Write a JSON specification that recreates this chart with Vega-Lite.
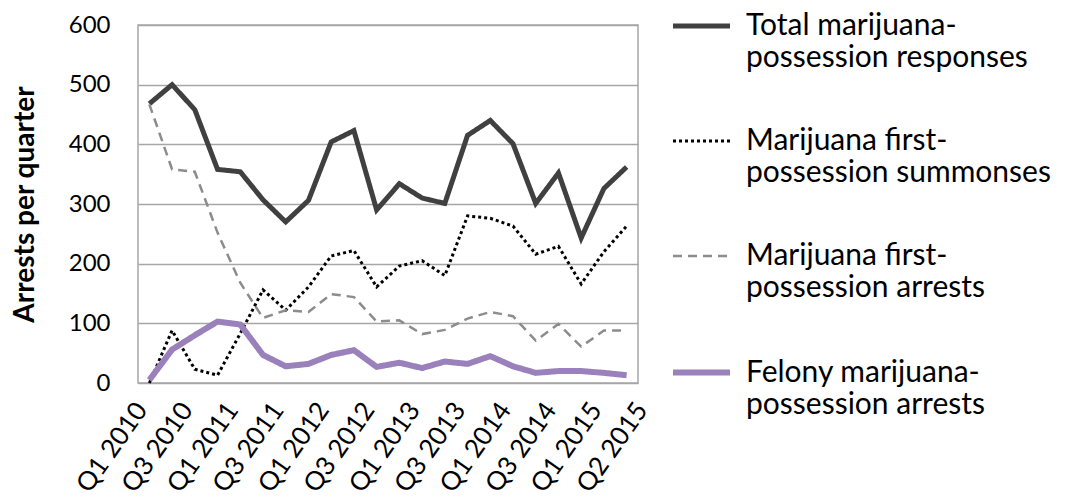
{
  "$schema": "https://vega.github.io/schema/vega-lite/v6.json",
  "width": 500,
  "height": 358,
  "autosize": "none",
  "padding": {"left": 138, "top": 25, "right": 428, "bottom": 114},
  "background": "white",
  "config": {
    "font": "Lato",
    "view": {"stroke": "#a6a6a6", "strokeWidth": 1.5},
    "axis": {"labelFont": "Lato", "titleFont": "Lato", "labelColor": "#000", "titleColor": "#000"}
  },
  "data": {
    "values": [
      {"i": 0, "q": "Q1 2010", "Total": 468, "Summonses": 0, "Arrests": 467, "Felony": 5},
      {"i": 1, "q": "Q2 2010", "Total": 500, "Summonses": 88, "Arrests": 358, "Felony": 56},
      {"i": 2, "q": "Q3 2010", "Total": 458, "Summonses": 23, "Arrests": 354, "Felony": 80},
      {"i": 3, "q": "Q4 2010", "Total": 358, "Summonses": 13, "Arrests": 252, "Felony": 103},
      {"i": 4, "q": "Q1 2011", "Total": 354, "Summonses": 83, "Arrests": 168, "Felony": 98},
      {"i": 5, "q": "Q2 2011", "Total": 307, "Summonses": 156, "Arrests": 109, "Felony": 47},
      {"i": 6, "q": "Q3 2011", "Total": 270, "Summonses": 122, "Arrests": 122, "Felony": 28},
      {"i": 7, "q": "Q4 2011", "Total": 306, "Summonses": 161, "Arrests": 119, "Felony": 32},
      {"i": 8, "q": "Q1 2012", "Total": 404, "Summonses": 213, "Arrests": 149, "Felony": 47},
      {"i": 9, "q": "Q2 2012", "Total": 423, "Summonses": 222, "Arrests": 144, "Felony": 55},
      {"i": 10, "q": "Q3 2012", "Total": 290, "Summonses": 161, "Arrests": 103, "Felony": 27},
      {"i": 11, "q": "Q4 2012", "Total": 334, "Summonses": 196, "Arrests": 105, "Felony": 34},
      {"i": 12, "q": "Q1 2013", "Total": 310, "Summonses": 205, "Arrests": 82, "Felony": 25},
      {"i": 13, "q": "Q2 2013", "Total": 301, "Summonses": 180, "Arrests": 89, "Felony": 36},
      {"i": 14, "q": "Q3 2013", "Total": 415, "Summonses": 280, "Arrests": 108, "Felony": 32},
      {"i": 15, "q": "Q4 2013", "Total": 440, "Summonses": 276, "Arrests": 119, "Felony": 45},
      {"i": 16, "q": "Q1 2014", "Total": 401, "Summonses": 263, "Arrests": 112, "Felony": 28},
      {"i": 17, "q": "Q2 2014", "Total": 301, "Summonses": 216, "Arrests": 71, "Felony": 17},
      {"i": 18, "q": "Q3 2014", "Total": 352, "Summonses": 229, "Arrests": 99, "Felony": 20},
      {"i": 19, "q": "Q4 2014", "Total": 243, "Summonses": 166, "Arrests": 61, "Felony": 20},
      {"i": 20, "q": "Q1 2015", "Total": 326, "Summonses": 220, "Arrests": 88, "Felony": 17},
      {"i": 21, "q": "Q2 2015", "Total": 362, "Summonses": 263, "Arrests": 88, "Felony": 13}
    ]
  },
  "transform": [
    {"fold": ["Total", "Summonses", "Arrests", "Felony"], "as": ["series", "value"]}
  ],
  "mark": {"type": "line", "strokeJoin": "miter", "strokeCap": "butt"},
  "encoding": {
    "x": {
      "field": "i",
      "type": "quantitative",
      "scale": {"domain": [-0.5, 21.5], "nice": false, "zero": false},
      "axis": {
        "title": null,
        "domain": false,
        "ticks": false,
        "grid": false,
        "labelAngle": -55,
        "labelAlign": "right",
        "labelBaseline": "middle",
        "labelFontSize": 26,
        "labelPadding": 22,
        "labelOffset": {"condition": {"test": "datum.value == 21", "value": 15}, "value": -8},
        "labelOverlap": false,
        "labelFlush": false,
        "labelBound": false,
        "values": [0, 2, 4, 6, 8, 10, 12, 14, 16, 18, 20, 21],
        "labelExpr": "'Q' + (datum.value % 4 + 1) + ' ' + (2010 + floor(datum.value / 4))"
      }
    },
    "y": {
      "field": "value",
      "type": "quantitative",
      "scale": {"domain": [0, 600], "nice": false},
      "axis": {
        "title": "Arrests per quarter",
        "titleFontSize": 28,
        "titleFontWeight": "bold",
        "titlePadding": 29,
        "values": [0, 100, 200, 300, 400, 500, 600],
        "labelFontSize": 24,
        "labelPadding": 28,
        "ticks": false,
        "domain": false,
        "gridColor": "#a6a6a6",
        "gridWidth": 1.5
      }
    },
    "color": {
      "field": "series",
      "type": "nominal",
      "scale": {"domain": ["Total", "Summonses", "Arrests", "Felony"], "range": ["#404040", "#000000", "#8c8c8c", "#9a81bb"]},
      "legend": {
        "title": null,
        "orient": "none",
        "legendX": 532,
        "legendY": -30,
        "symbolType": "stroke",
        "symbolSize": 3249,
        "labelFontSize": 30,
        "labelFont": "Lato",
        "labelColor": "#000",
        "labelOffset": 13,
        "labelLimit": 500,
        "rowPadding": 38,
        "labelBaseline": "middle",
        "labelExpr": "datum.value == 'Total' ? ['Total marijuana-', 'possession responses'] : datum.value == 'Summonses' ? ['Marijuana first-', 'possession summonses'] : datum.value == 'Arrests' ? ['Marijuana first-', 'possession arrests'] : ['Felony marijuana-', 'possession arrests']"
      }
    },
    "strokeDash": {
      "field": "series",
      "type": "nominal",
      "scale": {"domain": ["Total", "Summonses", "Arrests", "Felony"], "range": [[1, 0], [3, 3], [9, 6], [1, 0]]},
      "legend": null
    },
    "strokeWidth": {
      "field": "series",
      "type": "nominal",
      "scale": {"type": "ordinal", "domain": ["Total", "Summonses", "Arrests", "Felony"], "range": [5, 3, 2.5, 6]},
      "legend": null
    }
  }
}
